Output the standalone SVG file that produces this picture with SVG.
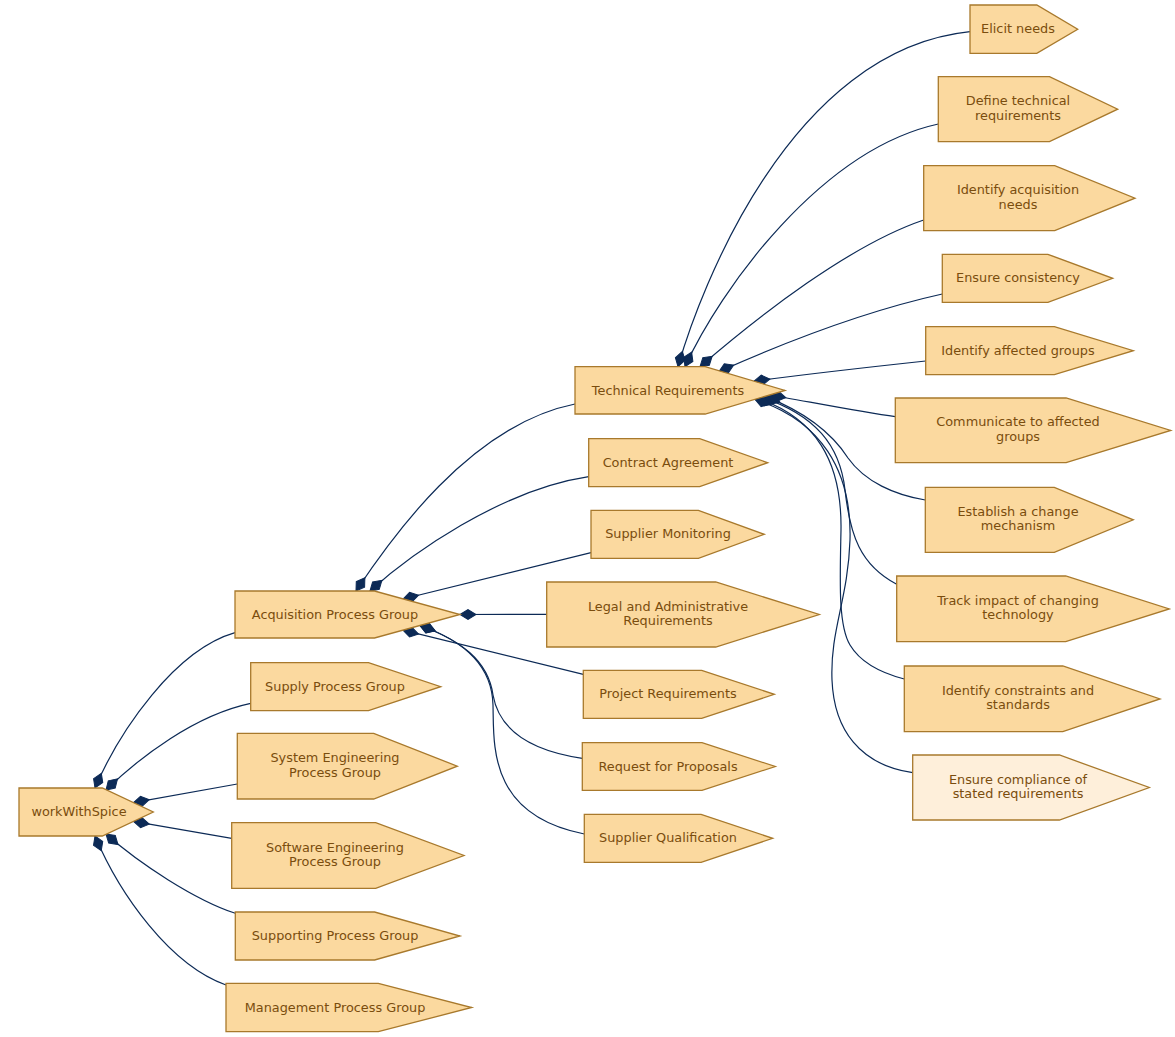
<svg xmlns="http://www.w3.org/2000/svg" width="1175" height="1037" viewBox="0 0 1175 1037">
<defs>
<style>
.n polygon{fill:#fbd99f;stroke:#a8792c;stroke-width:1.3}
.n.lt polygon{fill:#feefda}
.n text{font-family:"DejaVu Sans",sans-serif;font-size:12.85px;fill:#7a4d0e;text-anchor:middle}
.e path{fill:none;stroke:#0c2a56;stroke-width:1.2;marker-start:url(#dia)}
</style>
<marker id="dia" viewBox="-1 -6 18 12" refX="0" refY="0" markerWidth="18" markerHeight="12" markerUnits="userSpaceOnUse" orient="auto" overflow="visible">
<path d="M0,0 L8,-5 L16,0 L8,5 Z" fill="#0c2a56" stroke="#0c2a56" stroke-width="1"/>
</marker>
</defs>
<rect width="1175" height="1037" fill="#ffffff"/>
<g id="edges" class="e">
<path d="M95,788 C120,730 175,650 235,632.7"/>
<path d="M106,790 C140,757 195,715 250.7,703.3"/>
<path d="M133.5,802.6 L237.3,784"/>
<path d="M133.5,821.4 L231.7,838.3"/>
<path d="M106,834 C140,864 195,900 235.3,913.3"/>
<path d="M95,836 C120,895 170,965 226,985"/>
<path d="M356,591 C390,540 470,425 575,404"/>
<path d="M370,591 C410,555 500,490 588.7,476.7"/>
<path d="M403,599 L591,552.7"/>
<path d="M460,614.5 L546.7,614.3"/>
<path d="M403,630.2 L583.3,674.3"/>
<path d="M420,625.5 C460,640 488,660 493,695 C500,735 540,752 582.3,758.3"/>
<path d="M420,625.5 C462,640 492,665 493,705 C494,745 488,815 584.3,834"/>
<path d="M678,366.7 C700,290 790,50 970,31.7"/>
<path d="M685,366.7 C720,290 820,150 938.3,124"/>
<path d="M700,366.7 C760,315 850,245 923.7,220"/>
<path d="M719,371.6 C790,340 870,310 942.3,294"/>
<path d="M754,381.2 C800,375 870,367 925.7,361"/>
<path d="M770,395 C800,400 860,412 895.3,416.7"/>
<path d="M765,396.4 C800,410 830,430 848,458 C865,482 895,495 925.3,500"/>
<path d="M762,397.3 C815,415 840,445 845,490 C850,535 860,565 896.7,584.3"/>
<path d="M758,398.5 C815,418 842,460 841,530 C840,580 838,625 850,645 C862,665 885,674 904.3,679"/>
<path d="M755,399.4 C820,420 852,470 850,540 C848,600 830,630 832,680 C834,730 860,765 912.7,772.7"/>
</g>
<g id="workWithSpice" class="n"><polygon points="19,788 102.3,788 153.3,812 102.3,836 19,836"/><text x="79" y="816.2">workWithSpice</text></g>
<g id="acquisition" class="n"><polygon points="235,591 374.5,591 460,614.5 374.5,638 235,638"/><text x="335" y="618.6">Acquisition Process Group</text></g>
<g id="supply" class="n"><polygon points="250.7,662.7 368.5,662.7 440.7,686.7 368.5,710.7 250.7,710.7"/><text x="335" y="690.8">Supply Process Group</text></g>
<g id="systemEng" class="n"><polygon points="237.3,733.3 373.7,733.3 457.3,766.2 373.7,799 237.3,799"/><text x="335" y="762.2">System Engineering</text><text x="335" y="776.7">Process Group</text></g>
<g id="softwareEng" class="n"><polygon points="231.7,822.7 375.7,822.7 464,855.5 375.7,888.3 231.7,888.3"/><text x="335" y="851.5">Software Engineering</text><text x="335" y="866">Process Group</text></g>
<g id="supporting" class="n"><polygon points="235.3,912 374.6,912 460,936 374.6,960 235.3,960"/><text x="335" y="940.1">Supporting Process Group</text></g>
<g id="management" class="n"><polygon points="226,983.3 378.3,983.3 471.7,1007.5 378.3,1031.7 226,1031.7"/><text x="335" y="1011.6">Management Process Group</text></g>
<g id="technicalRequirements" class="n"><polygon points="575,366.7 705.2,366.7 785,390.4 705.2,414 575,414"/><text x="668" y="394.5">Technical Requirements</text></g>
<g id="contractAgreement" class="n"><polygon points="588.7,438.7 699.7,438.7 767.7,462.7 699.7,486.7 588.7,486.7"/><text x="668" y="466.8">Contract Agreement</text></g>
<g id="supplierMonitoring" class="n"><polygon points="591,510.3 698.4,510.3 764.3,534.3 698.4,558.3 591,558.3"/><text x="668" y="538.4">Supplier Monitoring</text></g>
<g id="legal" class="n"><polygon points="546.7,582 715.7,582 819.3,614.5 715.7,647 546.7,647"/><text x="668" y="610.5">Legal and Administrative</text><text x="668" y="625">Requirements</text></g>
<g id="projectRequirements" class="n"><polygon points="583.3,670.3 701.7,670.3 774.3,694.3 701.7,718.3 583.3,718.3"/><text x="668" y="698.4">Project Requirements</text></g>
<g id="requestForProposals" class="n"><polygon points="582.3,742.7 702,742.7 775.3,766.5 702,790.3 582.3,790.3"/><text x="668" y="770.6">Request for Proposals</text></g>
<g id="supplierQualification" class="n"><polygon points="584.3,814.3 701.1,814.3 772.7,838.3 701.1,862.3 584.3,862.3"/><text x="668" y="842.4">Supplier Qualification</text></g>
<g id="elicitNeeds" class="n"><polygon points="970,5 1036.8,5 1077.7,29.2 1036.8,53.3 970,53.3"/><text x="1018" y="33.3">Elicit needs</text></g>
<g id="defineTechnical" class="n"><polygon points="938.3,76.7 1049.5,76.7 1117.7,109.2 1049.5,141.7 938.3,141.7"/><text x="1018" y="105.2">Define technical</text><text x="1018" y="119.7">requirements</text></g>
<g id="identifyAcquisition" class="n"><polygon points="923.7,165.7 1054.7,165.7 1135,198.2 1054.7,230.7 923.7,230.7"/><text x="1018" y="194.2">Identify acquisition</text><text x="1018" y="208.7">needs</text></g>
<g id="ensureConsistency" class="n"><polygon points="942.3,254.3 1047.9,254.3 1112.7,278.3 1047.9,302.3 942.3,302.3"/><text x="1018" y="282.4">Ensure consistency</text></g>
<g id="identifyAffected" class="n"><polygon points="925.7,326.7 1054.4,326.7 1133.3,350.7 1054.4,374.7 925.7,374.7"/><text x="1018" y="354.8">Identify affected groups</text></g>
<g id="communicate" class="n"><polygon points="895.3,398 1066.1,398 1170.7,430.4 1066.1,462.7 895.3,462.7"/><text x="1018" y="426.4">Communicate to affected</text><text x="1018" y="440.9">groups</text></g>
<g id="establish" class="n"><polygon points="925.3,487.3 1054.3,487.3 1133.3,519.8 1054.3,552.3 925.3,552.3"/><text x="1018" y="515.8">Establish a change</text><text x="1018" y="530.3">mechanism</text></g>
<g id="trackImpact" class="n"><polygon points="896.7,576 1065.7,576 1169.3,608.9 1065.7,641.7 896.7,641.7"/><text x="1018" y="604.9">Track impact of changing</text><text x="1018" y="619.4">technology</text></g>
<g id="identifyConstraints" class="n"><polygon points="904.3,666 1062.8,666 1160,698.9 1062.8,731.7 904.3,731.7"/><text x="1018" y="694.9">Identify constraints and</text><text x="1018" y="709.4">standards</text></g>
<g id="ensureCompliance" class="n lt"><polygon points="912.7,755 1059.4,755 1149.3,787.5 1059.4,820 912.7,820"/><text x="1018" y="783.5">Ensure compliance of</text><text x="1018" y="798">stated requirements</text></g>
</svg>
